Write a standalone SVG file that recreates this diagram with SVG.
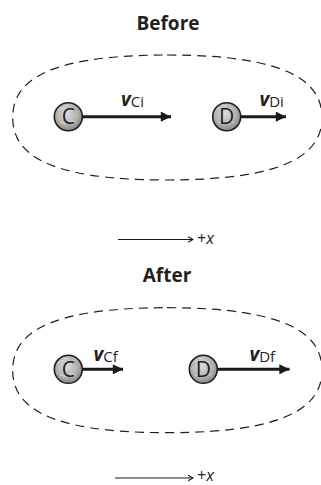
<svg xmlns="http://www.w3.org/2000/svg" width="321" height="485" viewBox="0 0 321 485">
<defs>
<radialGradient id="ballGrad" cx="0.45" cy="0.4" r="0.6">
<stop offset="0" stop-color="#dcdcdc"/>
<stop offset="0.6" stop-color="#b4b4b4"/>
<stop offset="1" stop-color="#8a8a8a"/>
</radialGradient>
<marker id="head" viewBox="0 0 10 10" refX="10" refY="5" markerWidth="5.2" markerHeight="3.4" markerUnits="strokeWidth" orient="auto">
<path d="M0,0 L10,5 L0,10 Z" fill="#1a1a1a"/>
</marker>
<marker id="chev" viewBox="0 0 10 10" refX="9" refY="5" markerWidth="7" markerHeight="8" markerUnits="userSpaceOnUse" orient="auto">
<path d="M2,1 L9,5 L2,9" fill="none" stroke="#1a1a1a" stroke-width="1.6"/>
</marker>
</defs>
<style>
.title{font-family:"Open Sans","Liberation Sans",sans-serif;font-weight:bold;font-size:19px;fill:#231f20;text-anchor:middle}
.sys{fill:none;stroke:#231f20;stroke-width:1.2;stroke-dasharray:9 6}
.ball{fill:url(#ballGrad);stroke:#231f20;stroke-width:1.6}
.tex{fill:none;stroke:#f0f0f0;stroke-width:0.7;opacity:0.85}
.blab{font-family:"Open Sans","Liberation Sans",sans-serif;font-size:21px;fill:#231f20;text-anchor:middle}
.vec{stroke:#1a1a1a;stroke-width:3;fill:none;marker-end:url(#head)}
.v{font-family:"Open Sans","Liberation Sans",sans-serif;font-weight:bold;font-style:italic;font-size:19px;fill:#231f20}
.sub{font-family:"Open Sans","Liberation Sans",sans-serif;font-size:15px;fill:#231f20}
.axis{stroke:#1a1a1a;stroke-width:1;fill:none;marker-end:url(#chev)}
.ax{font-family:"Open Sans","Liberation Sans",sans-serif;font-size:16px;fill:#231f20}
</style>

<g id="before-title"><text class="title" x="168" y="30">Before</text></g>
<g id="before-system"><path class="sys" d="M167,55 C291,55 322,83 322,117.5 C322,152 291,180 167,180 C43,180 12.7,152 12.7,117.5 C12.7,83 43,55 167,55 Z"/></g>
<g id="ball-C-before">
<circle class="ball" cx="68.3" cy="116.7" r="14"/>
<path class="tex" d="M58,110 q4,-4 8,-1 t7,0 M60,122 q5,3 9,0 t7,1 M63,105 q3,2 6,0"/>
<text class="blab" x="68.3" y="124.2">C</text>
</g>
<g id="ball-D-before">
<circle class="ball" cx="226.7" cy="116.7" r="14"/>
<path class="tex" d="M216,110 q4,-4 8,-1 t7,0 M218,122 q5,3 9,0 t7,1 M221,105 q3,2 6,0"/>
<text class="blab" x="226.7" y="124.2">D</text>
</g>
<g id="ball-C-after">
<circle class="ball" cx="68.3" cy="369.3" r="14"/>
<path class="tex" d="M58,363 q4,-4 8,-1 t7,0 M60,375 q5,3 9,0 t7,1 M63,358 q3,2 6,0"/>
<text class="blab" x="68.3" y="376.8">C</text>
</g>
<g id="ball-D-after">
<circle class="ball" cx="203.3" cy="369.3" r="14"/>
<path class="tex" d="M193,363 q4,-4 8,-1 t7,0 M195,375 q5,3 9,0 t7,1 M198,358 q3,2 6,0"/>
<text class="blab" x="203.3" y="376.8">D</text>
</g>

<g id="connectors">
<line class="vec" x1="82.5" y1="116.7" x2="171" y2="116.7"/>
<line class="vec" x1="240.8" y1="116.7" x2="286" y2="116.7"/>
<line class="vec" x1="82.5" y1="369.3" x2="123" y2="369.3"/>
<line class="vec" x1="217.5" y1="369.3" x2="289.5" y2="369.3"/>
<line class="axis" x1="118" y1="239.5" x2="193" y2="239.5"/>
<line class="axis" x1="115" y1="478" x2="193" y2="478"/>
</g>

<g id="label-vCi"><text x="121" y="106"><tspan class="v">v</tspan><tspan class="sub" dy="1">Ci</tspan></text></g>
<g id="label-vDi"><text x="259.5" y="106"><tspan class="v">v</tspan><tspan class="sub" dy="1">Di</tspan></text></g>

<g id="before-axis-label"><text class="ax" x="197" y="244">+<tspan font-style="italic">x</tspan></text></g>

<g id="after-title"><text class="title" x="167" y="282">After</text></g>
<g id="after-system"><path class="sys" d="M167,307.7 C291,307.7 322,335.7 322,370.2 C322,404.7 291,432.7 167,432.7 C43,432.7 12.7,404.7 12.7,370.2 C12.7,335.7 43,307.7 167,307.7 Z"/></g>

<g id="label-vCf"><text x="93.5" y="361"><tspan class="v">v</tspan><tspan class="sub" dy="1">Cf</tspan></text></g>
<g id="label-vDf"><text x="249.5" y="361"><tspan class="v">v</tspan><tspan class="sub" dy="1">Df</tspan></text></g>

<g id="after-axis-label"><text class="ax" x="197" y="480.5">+<tspan font-style="italic">x</tspan></text></g>
</svg>
